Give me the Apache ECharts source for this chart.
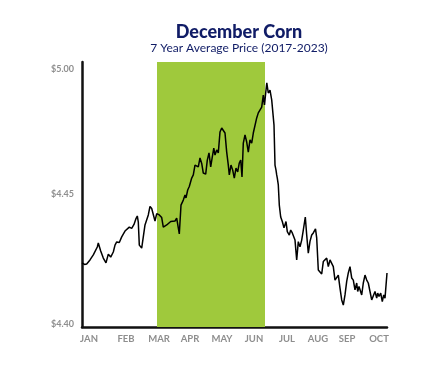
<!DOCTYPE html>
<html>
<head>
<meta charset="utf-8">
<script src="https://cdn.jsdelivr.net/npm/echarts@6/dist/echarts.min.js"></script>
<style>
html,body{margin:0;padding:0;background:#fff;}
#chart{width:445px;height:371px;}
</style>
</head>
<body>
<div id="chart"></div>
<script>
// Position along the year (x units) and average price
const dayPos = [
0,2.5,4.7,8,11.3,13,15.3,16.3,18.7,21.3,
24,26.3,28.7,31.3,33,34.7,37.3,39.7,41.3,43,
44.7,47.3,49.7,52,54,55.3,56.3,57.3,59.7,61.3,
63,64.7,66.3,68,69.7,71.3,73,74.7,77.3,79.7,
81.3,83,84.7,86.3,88.7,90.7,93,94.7,96.3,97.3,
99,101.3,103,104,105.7,107.3,109.7,111.3,113,114.7,
116.3,118,119.7,121.3,123.7,125.3,127,128.7,130.3,131.8,
133,134.7,136.3,138,139.7,141.3,143,144.7,146.3,147.3,
149,150.7,152.3,154,155.7,157.3,158.7,160,161.3,163,
164.7,166.3,168,169.7,171.3,173,174.7,176.3,178,179.7,
181.3,182.5,183.7,184.8,186.3,188,189.7,190.7,192,193,
194,194.7,195.3,196.3,197.3,198.7,200.3,202,204,205.3,
207.3,208.7,210.3,212,213,214.7,216.3,218,219.7,221.3,
223.3,224.7,226.3,228,229.7,231.3,233.5,234.7,236.3,238,
239.7,241.3,243,244.7,246.3,248,249.7,251.3,253,254.7,
256.3,258,259.7,261.3,263,264.7,266.3,268,269.7,271.3,
273,274.7,275.7,277,278.7,279.7,281.3,283,284.7,286.3,
288,289.7,291.3,293,294.7,295.7,297,298.7,300.3,301.7,
303,305
];
const prices = [
4.4242,4.4236,4.4238,4.4253,4.4272,4.4279,4.4302,4.4317,4.4287,4.4260,
4.4242,4.4275,4.4264,4.4283,4.4309,4.4321,4.4319,4.4340,4.4347,4.4362,
4.4355,4.4377,4.4372,4.4387,4.4409,4.4419,4.4396,4.4309,4.4298,4.4291,
4.4385,4.4392,4.4423,4.4455,4.4447,4.4442,4.4400,4.4428,4.4423,4.4413,
4.4377,4.4370,4.4385,4.4379,4.4398,4.4404,4.4400,4.4411,4.4374,4.4351,
4.4460,4.4479,4.4498,4.4487,4.4517,4.4530,4.4562,4.4574,4.4611,4.4617,
4.4604,4.4638,4.4617,4.4581,4.4577,4.4630,4.4657,4.4604,4.4642,4.4675,
4.4649,4.4668,4.4657,4.4736,4.4751,4.4757,4.4732,4.4660,4.4611,4.4574,
4.4611,4.4592,4.4562,4.4600,4.4585,4.4619,4.4630,4.4566,4.4694,4.4725,
4.4698,4.4660,4.4706,4.4694,4.4732,4.4725,4.4789,4.4808,4.4808,4.4830,
4.4875,4.4838,4.4883,4.4921,4.4883,4.4894,4.4857,4.4864,4.4762,4.4611,
4.4592,4.4574,4.4562,4.4536,4.4460,4.4415,4.4398,4.4374,4.4398,4.4360,
4.4347,4.4366,4.4355,4.4360,4.4328,4.4253,4.4322,4.4303,4.4328,4.4366,
4.4415,4.4347,4.4279,4.4323,4.4347,4.4355,4.4370,4.4336,4.4215,4.4209,
4.4200,4.4247,4.4253,4.4260,4.4228,4.4253,4.4247,4.4228,4.4177,4.4170,
4.4196,4.4147,4.4102,4.4083,4.4121,4.4172,4.4204,4.4228,4.4185,4.4177,
4.4140,4.4166,4.4134,4.4153,4.4147,4.4121,4.4166,4.4196,4.4177,4.4166,
4.4134,4.4102,4.4096,4.4134,4.4109,4.4128,4.4115,4.4128,4.4096,4.4121,
4.4109,4.4204
];
const monthLabels = ['JAN','FEB','MAR','APR','MAY','JUN','JUL','AUG','SEP','OCT'];
const monthPos = [7,44,77,108,140,172,205,236,265,297];
const yTickValues = [4.40, 4.45, 4.50];
const yTickLabels = ['$4.40', '$4.45', '$5.00'];
const highlightRange = [75, 183];

const seriesData = dayPos.map((d, i) => [d, prices[i]]);

const chart = echarts.init(document.getElementById('chart'), null, {renderer: 'canvas'});
const navy = '#101c66';
const gray = '#8e8e8e';
const labelRich = {
  top: {padding: [14, 0, 0, 0], color: gray, fontFamily: 'Lato', fontWeight: 'bold', fontSize: 9},
  bot: {padding: [0, 0, 6, 0], color: gray, fontFamily: 'Lato', fontWeight: 'bold', fontSize: 9},
  mid: {color: gray, fontFamily: 'Lato', fontWeight: 'bold', fontSize: 9}
};
chart.setOption({
  animation: false,
  backgroundColor: '#ffffff',
  title: [
    {
      text: 'December Corn',
      left: 234, top: 18, textAlign: 'center',
      textStyle: {fontFamily: 'Lato', fontWeight: 900, fontSize: 18, color: navy}
    },
    {
      text: '7 Year Average Price (2017-2023)',
      left: 234, top: 37, textAlign: 'center',
      textStyle: {fontFamily: 'Lato', fontWeight: 'normal', fontSize: 12, color: navy}
    }
  ],
  grid: {left: 82, right: 58, top: 62, bottom: 44, containLabel: false},
  xAxis: {
    type: 'value', min: 0, max: 305,
    axisLine: {show: true, onZero: false, lineStyle: {color: '#111', width: 2.5}},
    axisTick: {show: false},
    splitLine: {show: false},
    axisLabel: {
      customValues: monthPos,
      formatter: function (v) { const k = monthPos.indexOf(v); return k >= 0 ? monthLabels[k] : ''; },
      color: gray, fontFamily: 'Lato', fontWeight: 'bold', fontSize: 9.5, margin: 7
    }
  },
  yAxis: {
    type: 'value', min: 4.40, max: 4.50, interval: 0.05,
    axisLine: {show: true, lineStyle: {color: '#111', width: 2.5}},
    axisTick: {show: false},
    splitLine: {show: false},
    axisLabel: {
      customValues: yTickValues,
      formatter: function (v) {
        let best = 0;
        yTickValues.forEach((t, i) => { if (Math.abs(t - v) < Math.abs(yTickValues[best] - v)) best = i; });
        const style = best === 0 ? 'bot' : (best === yTickValues.length - 1 ? 'top' : 'mid');
        return '{' + style + '|' + yTickLabels[best] + '}';
      },
      rich: labelRich,
      color: gray, fontFamily: 'Lato', fontWeight: 'bold', fontSize: 9, margin: 8
    }
  },
  series: [{
    type: 'line',
    data: seriesData,
    showSymbol: false,
    symbol: 'none',
    lineStyle: {color: '#000', width: 1.5},
    z: 3,
    markArea: {
      silent: true,
      itemStyle: {color: '#9fc93c', opacity: 1},
      data: [[{xAxis: highlightRange[0]}, {xAxis: highlightRange[1]}]]
    }
  }]
});
</script>
</body>
</html>
